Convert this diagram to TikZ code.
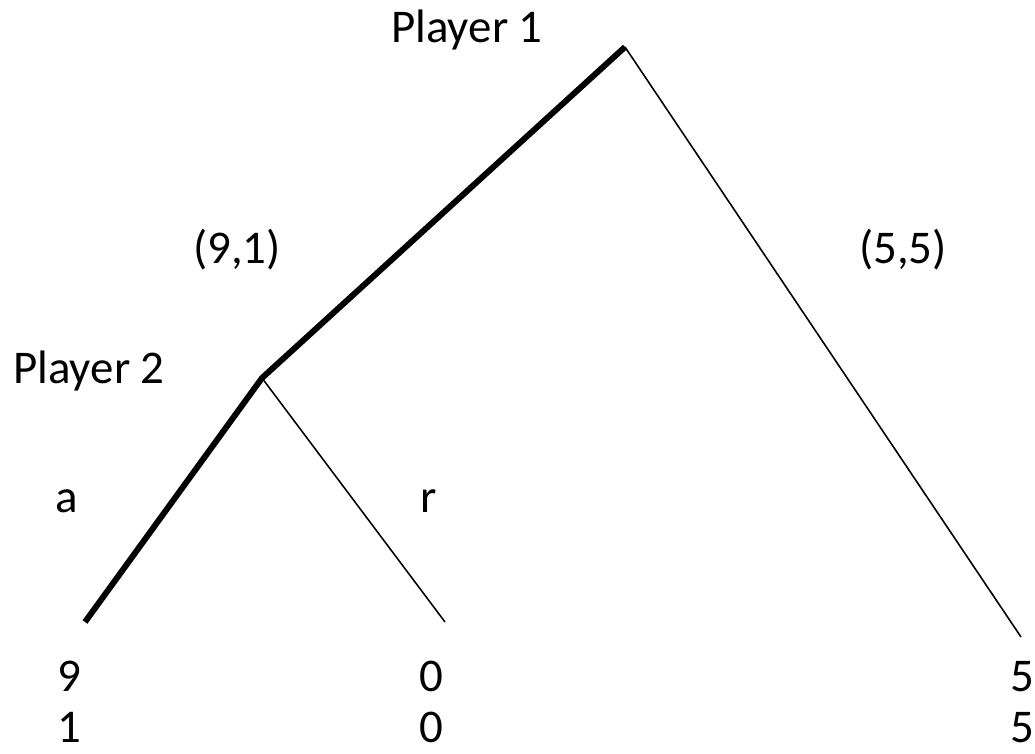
\documentclass[tikz,border=0pt]{standalone}
\usepackage{fontspec}
\setmainfont{Carlito}
\usetikzlibrary{positioning}

\begin{document}
\begin{tikzpicture}[x=0.02cm,y=-0.02cm,every node/.style={font=\fontsize{26.7}{32}\selectfont,inner sep=0pt,anchor=base},
  chosen/.style={line width=3.4pt},
  other/.style={line width=0.9pt}]
\useasboundingbox (0,0) rectangle (1035,754);
\coordinate (root) at (625,47);
\coordinate (ptwo) at (262,378);
\coordinate (leafa) at (85,622);
\coordinate (leafr) at (445,622);
\coordinate (leafq) at (1021,637);
\node (p1) at (467,42) {Player 1};
\node (p2) at (89,383) {Player 2};
\node (offl) at (237,263) {(9,1)};
\node (offr) at (903,263) {(5,5)};
\node (acc) at (67,512) {a};
\node (rej) at (429,512) {r};
\node (a1) at (69,691) {9};
\node (a2) at (69,742) {1};
\node (r1) at (431,691) {0};
\node (r2) at (431,742) {0};
\node (q1) at (1022,691) {5};
\node (q2) at (1022,742) {5};
\draw[chosen] (root) -- (ptwo) -- (leafa);
\draw[other] (root) -- (leafq);
\draw[other] (ptwo) -- (leafr);
\end{tikzpicture}
\end{document}
